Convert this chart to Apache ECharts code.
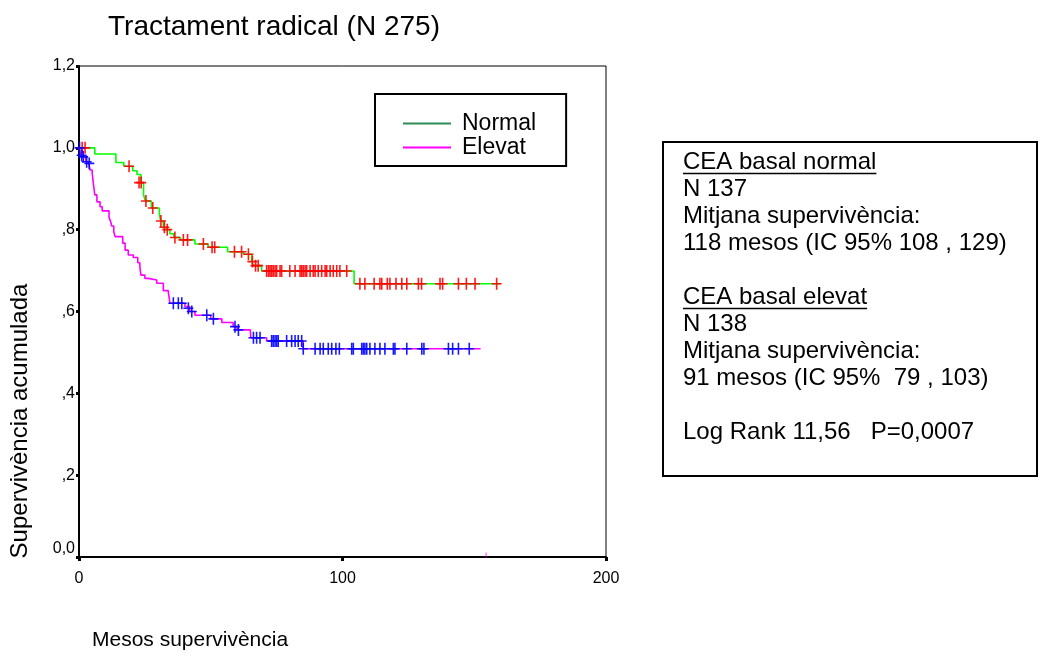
<!DOCTYPE html>
<html>
<head>
<meta charset="utf-8">
<script src="https://cdn.jsdelivr.net/npm/echarts@6/dist/echarts.min.js"></script>
<style>
html,body{margin:0;padding:0;background:#fff}
#km{width:1040px;height:657px}
</style>
</head>
<body>
<div id="km"></div>
<script>
// Kaplan-Meier: temps (mesos) i supervivencia despres de cada esdeveniment
var normalTimes = [0, 6, 14, 17, 20.4, 22, 23.5, 24.5, 25.2, 27.5, 30.5, 31, 32, 33.2, 34.5, 36, 38.5, 44, 49, 56.4, 62.4, 65.5, 66.2, 69.3, 104.4, 159.8];
var normalSurv  = [1.0, 0.985, 0.964, 0.955, 0.944, 0.935, 0.915, 0.885, 0.87, 0.853, 0.838, 0.821, 0.806, 0.80, 0.79, 0.781, 0.775, 0.765, 0.757, 0.746, 0.740, 0.722, 0.712, 0.699, 0.668, 0.668];

// censurats grup normal (creus vermelles)
var normalCensT = [1.2, 2.3, 19, 22.8, 23.6, 25.4, 28, 31.1, 32.4, 33.5, 36.4, 39.6, 41.2, 47.2, 50.5, 51.5, 59, 61.7, 64.3, 65.8, 67, 68,
  71.2, 71.9, 72.5, 73.1, 73.7, 74.4, 75, 76.3, 76.9, 80, 82, 83.9, 84.5, 85.1, 85.8, 86.4, 87.7, 88.9, 89.6, 90.8, 92.1, 93.4, 94, 95.3, 96.5, 97.8, 99, 101.6,
  106.6, 108.5, 112, 114.2, 114.9, 117, 118, 120.3, 122.5, 124.4, 128.8, 130, 137, 138, 144, 147, 150.3, 158.5];
var normalCensS = [1.0, 1.0, 0.955, 0.915, 0.915, 0.87, 0.853, 0.821, 0.806, 0.80, 0.781, 0.775, 0.775, 0.765, 0.757, 0.757, 0.746, 0.746, 0.740, 0.722, 0.712, 0.712,
  0.699, 0.699, 0.699, 0.699, 0.699, 0.699, 0.699, 0.699, 0.699, 0.699, 0.699, 0.699, 0.699, 0.699, 0.699, 0.699, 0.699, 0.699, 0.699, 0.699, 0.699, 0.699, 0.699, 0.699, 0.699, 0.699, 0.699, 0.699,
  0.668, 0.668, 0.668, 0.668, 0.668, 0.668, 0.668, 0.668, 0.668, 0.668, 0.668, 0.668, 0.668, 0.668, 0.668, 0.668, 0.668, 0.668];

var elevatTimes = [0, 0.6, 1.3, 2.5, 3.5, 4.2, 5, 5.5, 6, 6.8, 8, 8.8, 11.4, 12, 12.4, 13.2, 13.7, 16.6, 17.5, 18.7, 20.6, 22.3, 23.1, 23.5, 25, 26.3, 29.5, 32, 33.9, 34.2, 34.5, 40.2, 42, 44, 50, 54.2, 58.5, 60, 65, 65.2, 71.2, 85.1, 152.4];
var elevatSurv  = [1.0, 0.985, 0.978, 0.966, 0.962, 0.946, 0.938, 0.91, 0.885, 0.868, 0.856, 0.846, 0.830, 0.82, 0.809, 0.795, 0.783, 0.767, 0.750, 0.738, 0.732, 0.719, 0.709, 0.689, 0.681, 0.677, 0.669, 0.651, 0.646, 0.635, 0.620, 0.612, 0.600, 0.591, 0.582, 0.573, 0.563, 0.555, 0.553, 0.536, 0.528, 0.509, 0.509];

// censurats grup elevat (creus blaves)
var elevatCensT = [0.2, 1, 1.6, 2.9, 3.9, 35.8, 37.7, 39, 41.5, 42.8, 48.5, 51, 59.2, 60.5, 66.2, 67.4, 68.7,
  73.1, 73.7, 74.4, 75, 75.6, 78.8, 80.7, 82, 83.2, 84.5,
  85.1, 89.6, 91.5, 92.7, 94.6, 95.9, 97.5, 98.8, 103.5, 104.1, 107.3, 107.9, 108.5, 109.2, 110.4, 112.3, 114.2, 116.1, 119.3, 119.9, 124.4, 130.1, 130.9, 140.2, 141.8, 144, 148.1];
var elevatCensS = [1.0, 0.982, 0.978, 0.966, 0.962, 0.62, 0.62, 0.62, 0.608, 0.600, 0.591, 0.582, 0.563, 0.555, 0.536, 0.536, 0.536,
  0.528, 0.528, 0.528, 0.528, 0.528, 0.528, 0.528, 0.528, 0.528, 0.528,
  0.509, 0.509, 0.509, 0.509, 0.509, 0.509, 0.509, 0.509, 0.509, 0.509, 0.509, 0.509, 0.509, 0.509, 0.509, 0.509, 0.509, 0.509, 0.509, 0.509, 0.509, 0.509, 0.509, 0.509, 0.509, 0.509, 0.509];

// marca solta a la base (grup elevat)
var strayT = [154.5];
var strayS = [0.005];

var seriesNames = ['Normal', 'Elevat'];

var infoLines = [
  {t: 'CEA basal normal', u: true},
  {t: 'N 137'},
  {t: 'Mitjana supervivència:'},
  {t: '118 mesos (IC 95% 108 , 129)'},
  {t: ''},
  {t: 'CEA basal elevat', u: true},
  {t: 'N 138'},
  {t: 'Mitjana supervivència:'},
  {t: '91 mesos (IC 95%  79 , 103)'},
  {t: ''},
  {t: 'Log Rank 11,56   P=0,0007'}
];

function zip(a, b){ return a.map(function(v, i){ return [v, b[i]]; }); }

var FONT = '"Liberation Sans", Arial, sans-serif';
var crossPath = 'path://M4.2,0H5.8V12H4.2ZM0,5.2H10V6.8H0Z';

var meas = document.createElement('canvas').getContext('2d');
meas.font = '24px "Liberation Sans"';

var boxX = 663, boxY = 142, lineH = 27, txtX = 683, txtY0 = 162;
var gfx = [{
  type: 'rect', shape: {x: boxX, y: boxY, width: 374, height: 334},
  style: {fill: 'none', stroke: '#000', lineWidth: 2}
}];
infoLines.forEach(function(l, i){
  var y = txtY0 + i * lineH;
  gfx.push({type: 'text', x: txtX, y: y,
    style: {text: l.t, font: '24px ' + FONT, fill: '#000', textVerticalAlign: 'middle'}});
  if (l.u) {
    var w = meas.measureText(l.t).width;
    gfx.push({type: 'line', shape: {x1: txtX, y1: y + 11.5, x2: txtX + w, y2: y + 11.5},
      style: {stroke: '#000', lineWidth: 1.4}});
  }
});
gfx.push({type: 'text', x: 20, y: 421, rotation: Math.PI / 2,
  style: {text: 'Supervivència acumulada', font: '24px ' + FONT, fill: '#000', textAlign: 'center', textVerticalAlign: 'middle'}});
gfx.push({type: 'text', x: 92, y: 640,
  style: {text: 'Mesos supervivència', font: '21px ' + FONT, fill: '#000', textVerticalAlign: 'middle'}});

var chart = echarts.init(document.getElementById('km'));
chart.setOption({
  animation: false,
  backgroundColor: '#fff',
  title: {
    text: 'Tractament radical (N 275)', left: 103, top: 8,
    textStyle: {fontFamily: FONT, fontSize: 28, fontWeight: 'normal', color: '#000'}
  },
  legend: {
    data: [
      {name: seriesNames[0], itemStyle: {color: '#2e8b57'}, lineStyle: {color: '#2e8b57'}},
      {name: seriesNames[1], itemStyle: {color: '#ff00ff'}, lineStyle: {color: '#ff00ff'}}
    ],
    orient: 'vertical', left: 375, top: 94,
    padding: [18, 30, 7, 28],
    icon: 'rect', itemWidth: 48, itemHeight: 2, itemGap: 1,
    borderColor: '#000', borderWidth: 2,
    textStyle: {fontFamily: FONT, fontSize: 23, lineHeight: 22, color: '#000', padding: [0, 0, 0, 6]}
  },
  grid: {left: 79, right: 434, top: 66, bottom: 100, show: true, borderColor: '#000', borderWidth: 1},
  xAxis: {
    type: 'value', min: 0, max: 200, interval: 100,
    axisLine: {show: true, lineStyle: {color: '#000', width: 2}},
    axisTick: {show: true, length: 4, lineStyle: {color: '#000', width: 3}},
    axisLabel: {fontFamily: FONT, fontSize: 16, color: '#000', margin: 14},
    splitLine: {show: false}
  },
  yAxis: {
    type: 'value', min: 0, max: 1.2, interval: 0.2,
    axisLine: {show: true, lineStyle: {color: '#000', width: 2}},
    axisTick: {show: true, length: 3, lineStyle: {color: '#000', width: 3}},
    axisLabel: {
      fontFamily: FONT, fontSize: 16, color: '#000', margin: 4,
      formatter: function(v){
        if (Math.abs(v) < 1e-9) return '{z|0,0}';
        var s = (Math.round(v * 10) / 10).toFixed(1).replace('.', ',');
        return v < 1 ? s.substring(1) : s;
      },
      rich: {z: {fontFamily: FONT, fontSize: 16, color: '#000', padding: [0, 0, 16, 0]}}
    },
    splitLine: {show: false}
  },
  series: [
    {name: seriesNames[0], type: 'line', step: 'end', showSymbol: false, symbol: 'none',
     data: zip(normalTimes, normalSurv), lineStyle: {color: '#00ff00', width: 1.6}, itemStyle: {color: '#00ff00'}, z: 2},
    {name: seriesNames[1], type: 'line', step: 'end', showSymbol: false, symbol: 'none',
     data: zip(elevatTimes, elevatSurv), lineStyle: {color: '#ff00ff', width: 1.6}, itemStyle: {color: '#ff00ff'}, z: 2},
    {name: 'Normal censurat', type: 'scatter', symbol: crossPath, symbolSize: [10, 12],
     data: zip(normalCensT, normalCensS), itemStyle: {color: '#ff0000', opacity: 0.9}, z: 3},
    {name: 'Elevat censurat', type: 'scatter', symbol: crossPath, symbolSize: [10, 12],
     data: zip(elevatCensT, elevatCensS), itemStyle: {color: '#0000ff', opacity: 0.9}, z: 3},
    {name: 'marca', type: 'scatter', symbol: 'rect', symbolSize: [1, 5],
     data: zip(strayT, strayS), itemStyle: {color: '#ff00ff'}, z: 3}
  ],
  graphic: gfx
});
</script>
</body>
</html>
